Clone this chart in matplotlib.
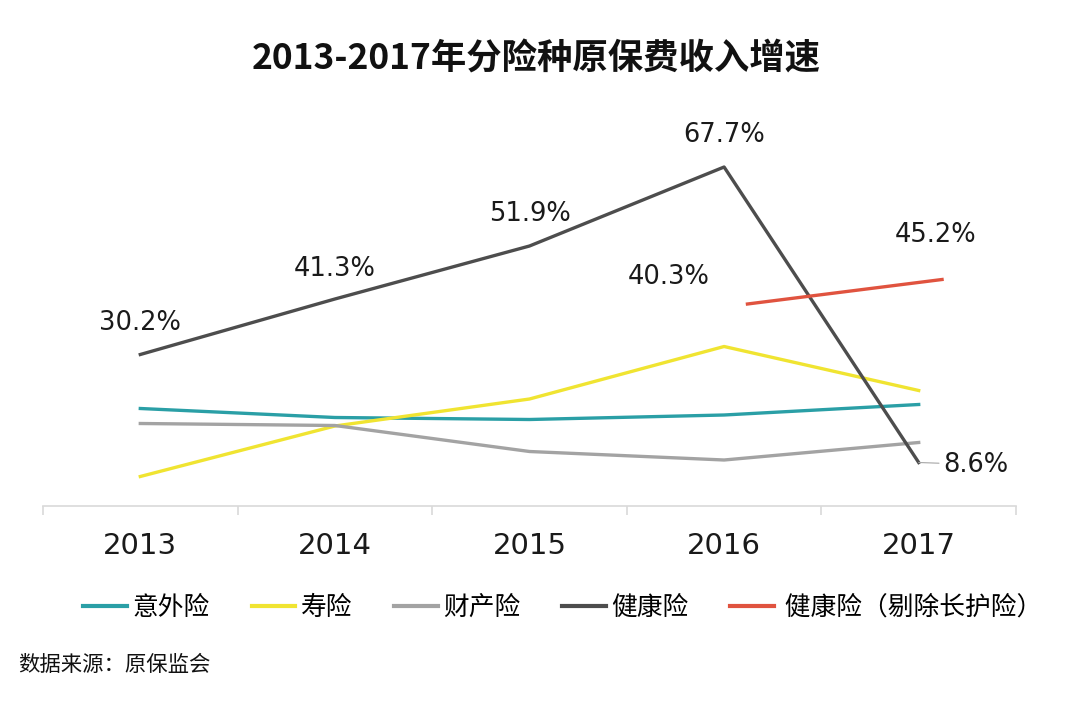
import matplotlib
matplotlib.use('Agg')
import matplotlib.pyplot as plt

plt.rcParams['font.family'] = ['DejaVu Sans', 'Noto Sans CJK SC']
CJK = ['Noto Sans CJK SC', 'DejaVu Sans']

# data
years = ['2013', '2014', '2015', '2016', '2017']
accident = [19.4, 17.6, 17.2, 18.1, 20.2]    # 意外险
life = [5.8, 15.9, 21.3, 31.8, 23.0]         # 寿险
property_ = [16.4, 16.0, 10.8, 9.1, 12.6]    # 财产险
health = [30.2, 41.3, 51.9, 67.7, 8.6]       # 健康险
health_ex_x = [3.12, 4.12]                   # 健康险（剔除长护险）, offset series
health_ex = [40.3, 45.2]

names = ['意外险', '寿险', '财产险', '健康险', ' 健康险（剔除长护险）']
colors = ['#2a9fa6', '#f0e431', '#a3a3a3', '#4d4d4d', '#e0533f']


def main():
    fig = plt.figure(figsize=(10.8, 7.05), dpi=100)
    ax = fig.add_axes([43/1080, (705-505.5)/705, (1016-43)/1080, (505.5-120)/705])

    x = list(range(len(years)))
    lw = 2.4
    ax.plot(x, accident, color=colors[0], lw=lw, label=names[0], zorder=2)
    ax.plot(x, life, color=colors[1], lw=lw, label=names[1], zorder=2)
    ax.plot(x, property_, color=colors[2], lw=lw, label=names[2], zorder=2)
    ax.plot(x, health, color=colors[3], lw=lw, label=names[3], zorder=3)
    ax.plot(health_ex_x, health_ex, color=colors[4], lw=lw, label=names[4], zorder=4)

    # data labels (offsets in pixels)
    offs = [(0, 31), (0, 30), (0, 32), (0, 32)]
    for i in range(4):
        ax.annotate('%.1f%%' % health[i], xy=(x[i], health[i]),
                    xytext=(offs[i][0]*0.72, offs[i][1]*0.72), textcoords='offset points',
                    ha='center', va='center', fontsize=18.5, color='#1a1a1a')
    ax.annotate('%.1f%%' % health[4], xy=(x[4], health[4]),
                xytext=(57*0.72, -2*0.72), textcoords='offset points',
                ha='center', va='center', fontsize=18.5, color='#1a1a1a',
                arrowprops=dict(arrowstyle='-', color='#a6a6a6', lw=0.8,
                                shrinkA=1, shrinkB=0))
    ax.annotate('%.1f%%' % health_ex[0], xy=(health_ex_x[0], health_ex[0]),
                xytext=(-79*0.72, 27*0.72), textcoords='offset points',
                ha='center', va='center', fontsize=18.5, color='#1a1a1a')
    ax.annotate('%.1f%%' % health_ex[1], xy=(health_ex_x[1], health_ex[1]),
                xytext=(-6*0.72, 44*0.72), textcoords='offset points',
                ha='center', va='center', fontsize=18.5, color='#1a1a1a')

    ax.set_xlim(-0.5, 4.5)
    ax.set_ylim(0, 77.1)
    for s in ['left', 'right', 'top']:
        ax.spines[s].set_visible(False)
    ax.spines['bottom'].set_color('#d9d9d9')
    ax.spines['bottom'].set_linewidth(1.2)
    ax.set_yticks([])
    ax.set_xticks(x)
    ax.set_xticklabels(years, fontsize=21, color='#1a1a1a')
    ax.tick_params(axis='x', which='major', length=0, pad=19)
    ax.set_xticks([i - 0.5 for i in range(len(years) + 1)], minor=True)
    ax.tick_params(axis='x', which='minor', length=6.5, color='#d9d9d9', width=1.2)

    fig.text(0.497, 1 - 59/705, '2013-2017年分险种原保费收入增速', ha='center', va='center',
             fontsize=25.5, fontweight='bold', family=CJK, color='#111111')

    leg = fig.legend(loc='center', bbox_to_anchor=(563/1080, 1 - 608/705), ncol=5,
                     frameon=False, prop={'family': CJK, 'size': 18.5},
                     handlelength=1.71, handletextpad=0.2, columnspacing=1.63)
    for h in leg.get_lines():
        h.set_linewidth(3)

    fig.text(18/1080, 1 - 665/705, '数据来源：原保监会', ha='left', va='center',
             fontsize=15.4, family=CJK, color='#111111')

    fig.savefig('out.png', dpi=100)


if __name__ == '__main__':
    main()
